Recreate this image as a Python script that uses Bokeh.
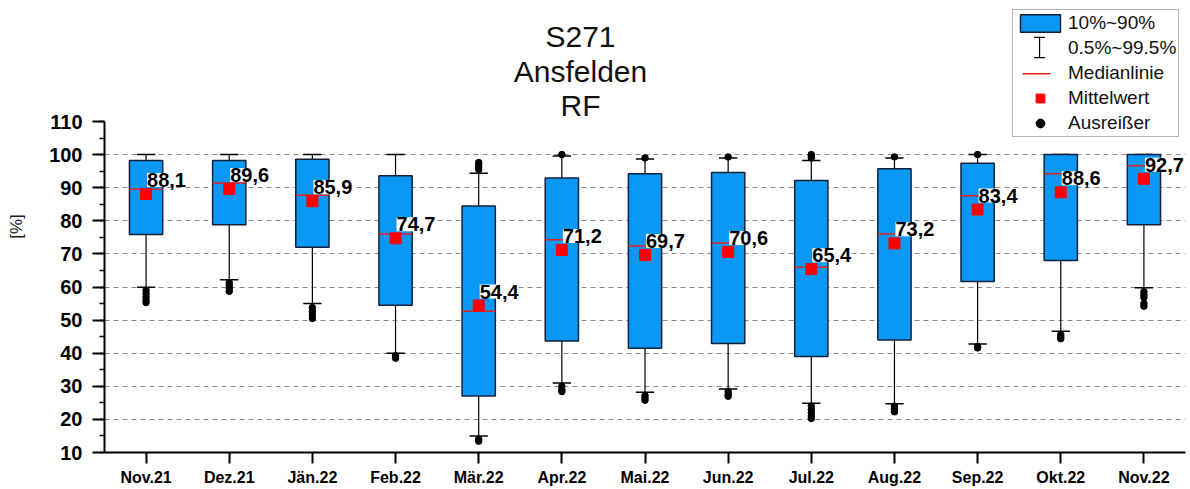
from bokeh.plotting import figure
from bokeh.models import (ColumnDataSource, FactorRange, Range1d, SingleIntervalTicker,
                          FixedTicker, LabelSet, Label, Legend, LegendItem)
from bokeh.transform import dodge
from bokeh.core.properties import value
from bokeh.embed import file_html
from bokeh.resources import INLINE

# ---------------- data ----------------
months = ["Nov.21", "Dez.21", "Jän.22", "Feb.22", "Mär.22", "Apr.22", "Mai.22",
          "Jun.22", "Jul.22", "Aug.22", "Sep.22", "Okt.22", "Nov.22"]
p10 = [75.9, 78.8, 72.0, 54.5, 27.1, 43.7, 41.5, 42.9, 39.0, 44.0, 61.7, 68.0, 78.8]
p90 = [98.2, 98.2, 98.6, 93.6, 84.5, 92.9, 94.2, 94.6, 92.2, 95.7, 97.4, 100.0, 100.0]
median = [89.5, 91.4, 87.7, 76.0, 52.7, 74.3, 72.4, 73.3, 66.0, 76.0, 87.6, 94.2, 96.6]
mean = [88.1, 89.6, 85.9, 74.7, 54.4, 71.2, 69.7, 70.6, 65.4, 73.2, 83.4, 88.6, 92.7]
p005 = [59.9, 62.2, 55.0, 40.0, 15.0, 31.0, 28.2, 29.2, 24.9, 24.7, 42.8, 46.6, 59.8]
p995 = [100.0, 100.0, 100.0, 100.0, 94.4, 99.6, 98.7, 99.0, 98.2, 99.0, 100.0, 100.0, 100.0]

outlier_months = (["Nov.21"] * 5 + ["Dez.21"] * 4 + ["Jän.22"] * 4 + ["Feb.22"] * 2 +
                  ["Mär.22"] * 6 + ["Apr.22"] * 4 + ["Mai.22"] * 4 + ["Jun.22"] * 4 +
                  ["Jul.22"] * 8 + ["Aug.22"] * 4 + ["Sep.22"] * 3 + ["Okt.22"] * 3 +
                  ["Nov.22"] * 5)
outlier_values = ([59.0, 58.0, 57.0, 56.0, 55.3] +
                  [61.3, 60.5, 59.6, 58.7] +
                  [53.8, 52.6, 51.5, 50.5] +
                  [39.2, 38.5] +
                  [95.5, 96.3, 97.0, 97.6, 14.0, 13.4] +
                  [100.0, 30.0, 29.0, 28.4] +
                  [99.0, 27.2, 26.4, 25.8] +
                  [99.3, 28.4, 27.6, 27.0] +
                  [99.0, 99.6, 100.0, 24.0, 23.0, 22.0, 21.0, 20.3] +
                  [99.3, 24.0, 23.0, 22.3] +
                  [100.0, 42.0, 41.6] +
                  [45.6, 45.0, 44.4] +
                  [58.6, 57.6, 56.8, 55.0, 54.2])

title_lines = ["S271", "Ansfelden", "RF"]
legend_labels = ["10%~90%", "0.5%~99.5%", "Medianlinie", "Mittelwert", "Ausreißer"]
y_label = "[%]"

# ---------------- style ----------------
FONT = "Liberation Sans"
BLUE = "#0a98f5"
EDGE = "#14203a"
RED = "#e8201c"
MEAN_RED = "#ff0000"

src = ColumnDataSource(dict(
    month=months, p10=p10, p90=p90, med=median, mean=mean, lo=p005, hi=p995,
    mean_txt=[f"{m:.1f}".replace(".", ",") for m in mean],
))

# frame reaches the top of the canvas so that title and legend are not clipped;
# the visible axis is limited to 10..110 with axis bounds
p = figure(x_range=FactorRange(*months), y_range=Range1d(10, 146.56),
           width=1188, height=488, output_backend="svg", toolbar_location=None,
           min_border_left=104, min_border_top=0, min_border_right=3, min_border_bottom=36)
p.outline_line_color = None
p.background_fill_color = "white"
p.border_fill_color = "white"

p.xgrid.grid_line_color = None
p.ygrid.ticker = FixedTicker(ticks=list(range(20, 101, 10)))
p.ygrid.grid_line_color = "#8a8a8a"
p.ygrid.grid_line_dash = "5 4"
p.ygrid.grid_line_width = 1

p.yaxis.bounds = (10, 110)
p.yaxis.ticker = SingleIntervalTicker(interval=10, num_minor_ticks=2)
p.yaxis.major_tick_out = 12
p.yaxis.major_tick_in = 0
p.yaxis.minor_tick_out = 5
p.yaxis.minor_tick_in = 0
p.yaxis.axis_line_width = 2
p.yaxis.major_tick_line_width = 2
p.yaxis.minor_tick_line_width = 1.5
p.yaxis.major_label_text_font = FONT
p.yaxis.major_label_text_font_size = "20px"
p.yaxis.major_label_text_font_style = "bold"
p.yaxis.major_label_text_color = "black"
p.yaxis.major_label_standoff = 10
p.yaxis.axis_label = y_label
p.yaxis.axis_label_text_font = FONT
p.yaxis.axis_label_text_font_size = "17px"
p.yaxis.axis_label_text_font_style = "normal"
p.yaxis.axis_label_text_color = "#222222"
p.yaxis.axis_label_standoff = 20

p.xaxis.major_tick_out = 11
p.xaxis.major_tick_in = 0
p.xaxis.axis_line_width = 2
p.xaxis.major_tick_line_width = 2
p.xaxis.major_label_text_font = FONT
p.xaxis.major_label_text_font_size = "16px"
p.xaxis.major_label_text_font_style = "bold"
p.xaxis.major_label_text_color = "black"
p.xaxis.major_label_standoff = 5

# whiskers
p.segment(x0="month", y0="lo", x1="month", y1="p10", source=src, line_color="black", line_width=1.2)
p.segment(x0="month", y0="p90", x1="month", y1="hi", source=src, line_color="black", line_width=1.2)
p.segment(x0=dodge("month", -0.11, range=p.x_range), y0="lo",
          x1=dodge("month", 0.11, range=p.x_range), y1="lo", source=src,
          line_color="black", line_width=1.5)
p.segment(x0=dodge("month", -0.11, range=p.x_range), y0="hi",
          x1=dodge("month", 0.11, range=p.x_range), y1="hi", source=src,
          line_color="black", line_width=1.5)

# boxes
box_r = p.vbar(x="month", width=0.4, bottom="p10", top="p90", source=src,
               fill_color=BLUE, line_color=EDGE, line_width=1.5)
# medians
p.segment(x0=dodge("month", -0.2, range=p.x_range), y0="med",
          x1=dodge("month", 0.2, range=p.x_range), y1="med", source=src,
          line_color=RED, line_width=1.5)
# means
mean_r = p.scatter(x="month", y="mean", source=src, marker="square", size=11,
                   fill_color=MEAN_RED, line_color=MEAN_RED)
# outliers
out_r = p.scatter(x=outlier_months, y=outlier_values, marker="circle", size=6.5,
                  fill_color="black", line_color="black")

labels = LabelSet(x="month", y="mean", text="mean_txt", source=src,
                  x_offset=1, y_offset=7, text_baseline="bottom", text_align="left",
                  text_font=value(FONT), text_font_size="20px", text_font_style="bold",
                  text_color="black", background_fill_color="white", background_fill_alpha=1.0)
p.add_layout(labels)

# title (screen units relative to plot frame)
for txt, yb in zip(title_lines, [416, 381.5, 347]):
    p.add_layout(Label(x=476, y=yb, x_units="screen", y_units="screen", text=txt,
                       text_align="center", text_baseline="alphabetic",
                       text_font=FONT, text_font_size="30px", text_color="#111111"))

# legend icons for the whisker range (I-beam) and the median line, drawn as glyphs
# in the empty strip above the 110 mark (legend box is transparent)
IB_X, IB_LO, IB_HI, IB_CAP = 11.245, 129.3, 135.4, 0.066
p.segment(x0=[IB_X, IB_X - IB_CAP, IB_X - IB_CAP], y0=[IB_LO, IB_LO, IB_HI],
          x1=[IB_X, IB_X + IB_CAP, IB_X + IB_CAP], y1=[IB_HI, IB_LO, IB_HI],
          line_color="black", line_width=1.2)
p.segment(x0=[11.04], y0=[124.4], x1=[11.377], y1=[124.4], line_color=RED, line_width=1.5)

# legend
dummy = p.scatter(x=[], y=[], marker="circle", fill_alpha=0, line_alpha=0)
legend = Legend(items=[
    LegendItem(label=legend_labels[0], renderers=[box_r]),
    LegendItem(label=legend_labels[1], renderers=[dummy]),
    LegendItem(label=legend_labels[2], renderers=[dummy]),
    LegendItem(label=legend_labels[3], renderers=[mean_r]),
    LegendItem(label=legend_labels[4], renderers=[out_r]),
], location=(908, 315), orientation="vertical", padding=2, margin=0, spacing=3,
    glyph_width=50, glyph_height=22, label_height=22, label_standoff=3,
    label_text_font=FONT, label_text_font_size="19px", label_text_color="#111111",
    border_line_color="#6a6a6a", border_line_width=1,
    background_fill_alpha=0.0)
p.add_layout(legend)

open("out.html", "w").write(file_html(p, INLINE))
